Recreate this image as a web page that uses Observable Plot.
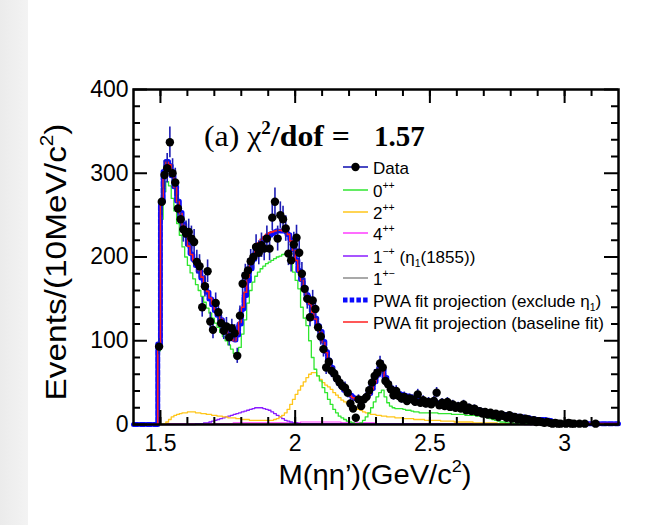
<!DOCTYPE html>
<html>
<head>
<meta charset="utf-8">
<script src="https://cdn.jsdelivr.net/npm/d3@7"></script>
<script src="https://cdn.jsdelivr.net/npm/@observablehq/plot@0.6"></script>
<style>
html, body { margin: 0; padding: 0; background: #ffffff; }
#wrap { position: relative; width: 646px; height: 525px; overflow: hidden; background: #ffffff; }
#strip { position: absolute; left: 0; top: 0; width: 28px; height: 525px; background: linear-gradient(to right, #ebebeb, #f3f3f3); }
#chart { position: absolute; left: 0; top: 0; }
</style>
</head>
<body>
<div id="wrap"><div id="strip"></div><div id="chart"></div></div>
<script>
// ---- binning: 10 MeV bins, low edges from 1.40 GeV ----
const binStart = 1.40;
const binWidth = 0.01;

// ---- axis ticks ----
const xMajorTicks = [1.5, 2, 2.5, 3];
const xMinorTicks = [1.5, 1.6, 1.7, 1.8, 1.9, 2.0, 2.1, 2.2, 2.3, 2.4, 2.5, 2.6, 2.7, 2.8, 2.9, 3.0, 3.1];
const yMajorTicks = [0, 100, 200, 300, 400];
const yMinorTicks = [20, 40, 60, 80, 120, 140, 160, 180, 220, 240, 260, 280, 320, 340, 360, 380];

// ---- observed events per bin ----
const dataCounts = [
  0,0,0,0,0,0,0,0,0,93,
  266,298,306,337,300,289,258,245,233,228,
  230,222,218,194,189,140,165,183,123,113,
  145,134,121,112,117,104,115,109,82,130,
  168,178,184,195,200,212,205,214,210,222,
  210,247,266,222,250,245,234,204,196,215,
  223,205,180,162,150,128,148,138,116,105,
  90,68,75,64,61,55,50,46,44,38,
  25,19,8,30,22,30,33,41,50,58,
  62,73,68,52,48,42,35,40,34,31,
  33,28,31,30,27,36,26,29,25,27,
  24,28,38,23,26,22,27,21,24,20,
  22,19,24,17,20,16,19,15,16,13,
  15,12,14,11,13,9,12,10,8,11,
  7,9,6,8,5,7,6,4,5,3,
  4,3,2,3,2,1,2,1,1,0,
  1,2,1,1,0,1,0,1,0,0,
  0,1,0,0,0,0,0,0,0,0
];

// ---- PWA fit projection (baseline fit) ----
const baselineFit = [
  0,0,0,0,0,0,0,0,0,95,
  265,300,313,310,298,283,266,252,238,225,
  213,203,196,190,184,176,167,159,151,144,
  137,131,126,120,113,107,102,100,108,122,
  140,158,176,192,203,211,217,221,224,227,
  229,230,231,232,232,231,230,227,219,208,
  196,183,172,162,154,144,134,126,118,110,
  98,86,76,67,59,53,48,44,40,37,
  34,32,30,29,29,30,32,36,42,50,
  58,66,64,55,48,43,40,38,36,35,
  34,33,32,31,30,29,29,28,27,27,
  26,25,25,24,24,23,23,22,22,21,
  20,20,19,19,18,18,17,17,16,15,
  15,14,14,13,13,12,12,11,11,10,
  10,9,9,8,8,7,7,6,6,5,
  5,5,5,4,4,2,2,2,1,1,
  1,1,1,1,1,1,1,1,1,1,
  1,1,1,1,1,1,1,1,1,1
];

// ---- PWA fit projection (exclude eta1) ----
const excludeFit = [
  0,0,0,0,0,0,0,0,0,96,
  266,302,314,309,297,284,267,253,239,226,
  214,204,196,190,183,175,166,158,150,143,
  136,130,125,119,113,107,103,101,107,120,
  137,154,171,186,197,205,211,216,220,224,
  226,228,230,231,231,231,230,227,220,209,
  197,184,173,163,155,145,135,127,119,111,
  99,87,77,68,60,54,49,45,41,38,
  35,33,31,30,30,31,33,37,43,51,
  59,67,65,56,49,44,41,39,37,36,
  35,34,33,32,31,30,30,29,28,28,
  27,26,26,25,25,24,24,23,23,22,
  21,21,20,20,19,19,18,18,17,16,
  16,15,15,14,14,13,13,12,12,11,
  11,10,10,9,9,8,8,7,7,6,
  6,6,6,5,5,2,2,2,1,1,
  1,1,1,1,1,1,1,1,1,1,
  1,1,1,1,1,1,1,1,1,1
];

// ---- 0++ component ----
const wave0pp = [
  0,0,0,0,0,0,0,0,0,88,
  245,278,290,285,270,255,240,226,212,200,
  190,181,174,167,160,153,146,139,133,127,
  121,116,110,105,100,95,90,85,82,92,
  108,125,145,160,170,177,182,186,189,192,
  194,196,198,200,201,203,204,204,196,182,
  172,162,140,127,118,100,80,66,58,52,
  44,38,30,24,18,14,10,8,6,4,
  3,2,1,1,2,5,9,14,20,27,
  33,38,41,33,26,22,20,19,19,19,
  18,17,17,16,15,15,14,14,14,14,
  14,14,14,13,13,13,13,13,12,12,
  12,12,12,11,11,11,11,10,10,10,
  9,8,7,6,5,4,3,3,2,2,
  2,1,1,1,1,1,1,1,1,1,
  1,1,1,1,1,0,0,0,0,0,
  0,0,0,0,0,0,0,0,0,0,
  0,0,0,0,0,0,0,0,0,0
];

// ---- 2++ component ----
const wave2pp = [
  0,0,0,0,0,0,0,0,0,0,
  0,1,3,6,9,11,12,13,14,14,
  15,15,15,14,14,13,13,12,12,11,
  11,10,10,9,9,8,8,8,7,7,
  6,6,6,5,5,5,5,5,5,5,
  5,5,6,7,9,11,14,18,24,30,
  36,41,46,51,56,60,62,62,58,54,
  50,47,45,42,38,35,32,29,27,25,
  23,21,20,18,17,15,14,13,12,12,
  11,11,10,10,9,9,9,8,8,8,
  7,7,7,7,6,6,6,6,5,5,
  5,5,5,5,4,4,4,4,4,3,
  3,3,3,3,3,3,2,2,2,2,
  2,2,2,2,2,1,1,1,1,1,
  1,1,1,1,1,1,1,1,1,1,
  1,1,1,1,1,0,0,0,0,0,
  0,0,0,0,0,0,0,0,0,0,
  0,0,0,0,0,0,0,0,0,0
];

// ---- 4++ component ----
const wave4pp = [
  0,0,0,0,0,0,0,0,0,0,
  0,1,1,1,1,1,1,1,1,1,
  1,1,1,1,1,1,1,1,1,1,
  1,1,1,1,1,1,1,2,2,2,
  2,2,2,2,2,2,2,2,2,2,
  2,2,2,2,2,2,2,2,2,2,
  2,2,3,3,3,3,3,3,3,3,
  3,3,3,3,3,3,3,2,2,2,
  2,2,2,2,2,2,2,2,2,2,
  1,1,1,1,1,1,1,1,1,1,
  1,1,1,1,1,1,1,1,1,1,
  1,1,1,1,1,1,1,1,1,1,
  1,1,1,1,1,1,1,1,1,1,
  1,1,1,1,1,1,1,1,1,1,
  1,1,1,1,1,1,1,1,1,1,
  1,1,1,1,1,0,0,0,0,0,
  0,0,0,0,0,0,0,0,0,0,
  0,0,0,0,0,0,0,0,0,0
];

// ---- 1-+ (eta1(1855)) component ----
const wave1mp = [
  0,0,0,0,0,0,0,0,0,0,
  0,0,0,0,0,0,0,0,0,0,
  0,0,0,1,1,1,2,2,3,4,
  5,6,7,8,9,10,11,12,13,14,
  15,16,17,18,19,20,20,20,19,18,
  17,15,13,11,9,7,5,4,3,2,
  2,1,1,1,1,1,1,1,1,1,
  1,1,1,1,1,1,1,1,1,1,
  1,1,1,1,1,1,1,1,1,1,
  1,1,1,1,1,1,1,1,1,1,
  1,1,1,1,1,1,1,1,1,1,
  1,1,1,1,1,1,1,1,1,1,
  1,1,1,1,1,1,1,1,1,1,
  1,1,1,1,1,1,1,1,1,1,
  1,1,1,1,1,0,0,0,0,0,
  0,0,0,0,0,0,0,0,0,0,
  0,0,0,0,0,0,0,0,0,0,
  0,0,0,0,0,0,0,0,0,0
];

// ---- 1+- component ----
const wave1pm = [
  0,0,0,0,0,0,0,0,0,0.5,
  0.5,0.5,0.5,0.5,0.5,0.5,0.5,0.5,0.5,0.5,
  0.5,0.5,0.5,0.5,0.5,0.5,0.5,0.5,0.5,0.5,
  0.5,0.5,0.5,0.5,0.5,0.5,0.5,0.5,0.5,0.5,
  0.5,0.5,0.5,0.5,0.5,0.5,0.5,0.5,0.5,0.5,
  0.5,0.5,0.5,0.5,0.5,0.5,0.5,0.5,0.5,0.5,
  0.5,0.5,0.5,0.5,0.5,0.5,0.5,0.5,0.5,0.5,
  0.5,0.5,0.5,0.5,0.5,0.5,0.5,0.5,0.5,0.5,
  0.5,0.5,0.5,0.5,0.5,0.5,0.5,0.5,0.5,0.5,
  0.5,0.5,0.5,0.5,0.5,0.5,0.5,0.5,0.5,0.5,
  0.5,0.5,0.5,0.5,0.5,0.5,0.5,0.5,0.5,0.5,
  0.5,0.5,0.5,0.5,0.5,0.5,0.5,0.5,0.5,0.5,
  0.5,0.5,0.5,0.5,0.5,0.5,0.5,0.5,0.5,0.5,
  0.5,0.5,0.5,0.5,0.5,0.5,0.5,0.5,0.5,0.5,
  0.5,0.5,0.5,0.5,0.5,0.5,0.5,0.5,0.5,0.5,
  0.5,0.5,0.5,0.5,0.5,0,0,0,0,0,
  0,0,0,0,0,0,0,0,0,0,
  0,0,0,0,0,0,0,0,0,0
];

// ---- legend entries ----
const legendEntries = [
  {key: "data", parts: [["Data", "n"]]},
  {key: "0pp", parts: [["0", "n"], ["++", "sup"]]},
  {key: "2pp", parts: [["2", "n"], ["++", "sup"]]},
  {key: "4pp", parts: [["4", "n"], ["++", "sup"]]},
  {key: "1mp", parts: [["1", "n"], ["−+", "sup"], [" (η", "n"], ["1", "sub"], ["(1855))", "n"]]},
  {key: "1pm", parts: [["1", "n"], ["+−", "sup"]]},
  {key: "excl", parts: [["PWA fit projection (exclude η", "n"], ["1", "sub"], [")", "n"]]},
  {key: "base", parts: [["PWA fit projection (baseline fit)", "n"]]}
];

const colors = {
  data: "#1c1cb4", "0pp": "#2fe62f", "2pp": "#ffc61a", "4pp": "#ff3dff",
  "1mp": "#8a1cff", "1pm": "#8c8c8c", excl: "#0a0aff", base: "#ff2020"
};

// ---- build drawable tables ----
const binLow = dataCounts.map((_, i) => Math.round((binStart + i * binWidth) * 1000) / 1000);
function steps(values) {
  return values.flatMap((v, i) => [{m: binLow[i], v}, {m: Math.round((binLow[i] + binWidth) * 1000) / 1000, v}]);
}
const points = dataCounts
  .map((n, i) => ({m: binLow[i] + binWidth / 2, n}))
  .filter(d => d.n > 0);

const xPerPx = 1.8 / 485, yPerPx = 400 / 335;
const majLen = 14, minLen = 7;
const tickStyle = {stroke: "black", strokeWidth: 2};

const chart = Plot.plot({
  width: 646, height: 525,
  marginLeft: 133, marginRight: 28, marginTop: 89, marginBottom: 101,
  x: {domain: [1.4, 3.2]},
  y: {domain: [0, 400]},
  style: {background: "transparent", fontFamily: "'Liberation Sans', Arial, sans-serif", fontSize: "23px", color: "black"},
  marks: [
    Plot.line(steps(wave1pm), {x: "m", y: "v", stroke: colors["1pm"], strokeWidth: 1.2}),
    Plot.line(steps(wave4pp), {x: "m", y: "v", stroke: colors["4pp"], strokeWidth: 1.2}),
    Plot.line(steps(wave1mp), {x: "m", y: "v", stroke: colors["1mp"], strokeWidth: 1.3}),
    Plot.line(steps(wave2pp), {x: "m", y: "v", stroke: colors["2pp"], strokeWidth: 1.3}),
    Plot.line(steps(wave0pp), {x: "m", y: "v", stroke: colors["0pp"], strokeWidth: 1.3}),
    Plot.line(steps(excludeFit), {x: "m", y: "v", stroke: colors.excl, strokeWidth: 5, strokeDasharray: "4.5,2.2"}),
    Plot.line(steps(baselineFit), {x: "m", y: "v", stroke: colors.base, strokeWidth: 1.6}),
    Plot.ruleX(points, {x: "m", y1: d => d.n - Math.sqrt(d.n), y2: d => d.n + Math.sqrt(d.n), stroke: colors.data, strokeWidth: 1.6}),
    Plot.dot(points, {x: "m", y: "n", r: 4.2, fill: "black", stroke: "none"}),
    Plot.frame({stroke: "black", strokeWidth: 2.5}),
    // inward ticks on all four sides
    Plot.ruleX(xMinorTicks, {y1: 0, y2: minLen * yPerPx, ...tickStyle}),
    Plot.ruleX(xMajorTicks, {y1: 0, y2: majLen * yPerPx, ...tickStyle}),
    Plot.ruleX(xMinorTicks, {y1: 400 - minLen * yPerPx, y2: 400, ...tickStyle}),
    Plot.ruleX(xMajorTicks, {y1: 400 - majLen * yPerPx, y2: 400, ...tickStyle}),
    Plot.ruleY(yMinorTicks, {x1: 1.4, x2: 1.4 + minLen * xPerPx, ...tickStyle}),
    Plot.ruleY(yMajorTicks, {x1: 1.4, x2: 1.4 + majLen * xPerPx, ...tickStyle}),
    Plot.ruleY(yMinorTicks, {x1: 3.2 - minLen * xPerPx, x2: 3.2, ...tickStyle}),
    Plot.ruleY(yMajorTicks, {x1: 3.2 - majLen * xPerPx, x2: 3.2, ...tickStyle}),
    Plot.axisX({ticks: xMajorTicks, tickSize: 0, tickPadding: 10, tickFormat: d => String(d), label: null, fontSize: 23}),
    Plot.axisY({ticks: yMajorTicks, tickSize: 0, tickPadding: 5, tickFormat: d => String(d), label: null, fontSize: 23})
  ]
});
document.getElementById("chart").appendChild(chart);

const svg = d3.select(chart);
const font = "'Liberation Sans', Arial, sans-serif";

function addParts(textSel, parts, baseSize) {
  let shift = 0;
  parts.forEach(([str, kind]) => {
    const t = textSel.append("tspan").text(str);
    let target = 0, size = baseSize;
    if (kind === "sup") { target = -0.42 * baseSize; size = baseSize * 0.62; }
    if (kind === "sub") { target = 0.25 * baseSize; size = baseSize * 0.62; }
    t.attr("dy", target - shift).attr("font-size", size);
    shift = target;
  });
}

// axis titles
const xt = svg.append("text").attr("x", 375).attr("y", 484).attr("text-anchor", "middle")
  .attr("font-family", font).attr("font-size", 28).attr("fill", "black")
  .attr("textLength", 193).attr("lengthAdjust", "spacingAndGlyphs");
addParts(xt, [["M(ηη’)(GeV/c", "n"], ["2", "sup"], [")", "n"]], 28);

const yt = svg.append("text").attr("transform", "translate(66,262) rotate(-90)").attr("text-anchor", "middle")
  .attr("font-family", font).attr("font-size", 30).attr("fill", "black")
  .attr("textLength", 277).attr("lengthAdjust", "spacingAndGlyphs");
addParts(yt, [["Events/(10MeV/c", "n"], ["2", "sup"], [")", "n"]], 30);

// panel title
const serif = "'Liberation Serif', 'Times New Roman', serif";
const tt = svg.append("text").attr("x", 204).attr("y", 146).attr("text-anchor", "start")
  .attr("font-family", serif).attr("font-size", 30).attr("fill", "black")
  .attr("textLength", 146).attr("lengthAdjust", "spacingAndGlyphs");
tt.append("tspan").text("(a) χ");
tt.append("tspan").attr("font-weight", "bold").attr("font-size", 18).attr("dy", -12).text("2");
tt.append("tspan").attr("font-weight", "bold").attr("dy", 12).text("/dof =");
svg.append("text").attr("x", 374).attr("y", 146).attr("text-anchor", "start").attr("font-family", serif).attr("font-size", 29)
  .attr("font-weight", "bold").attr("fill", "black").text("1.57");

// legend
const rowY = [167, 190, 212, 233, 256, 278, 300, 322];
const lg = svg.append("g").attr("text-anchor", "start");
legendEntries.forEach((e, i) => {
  const y = rowY[i];
  if (e.key === "data") {
    lg.append("line").attr("x1", 343).attr("x2", 368).attr("y1", y).attr("y2", y).attr("stroke", colors.data).attr("stroke-width", 1.6);
    lg.append("circle").attr("cx", 355.5).attr("cy", y).attr("r", 4.2).attr("fill", "black");
  } else if (e.key === "excl") {
    lg.append("line").attr("x1", 343).attr("x2", 368).attr("y1", y).attr("y2", y).attr("stroke", colors.excl).attr("stroke-width", 5).attr("stroke-dasharray", "4.5,2.2");
  } else {
    lg.append("line").attr("x1", 343).attr("x2", 368).attr("y1", y).attr("y2", y).attr("stroke", colors[e.key]).attr("stroke-width", 1.5);
  }
  const t = lg.append("text").attr("x", 373).attr("y", y + 6.5).attr("text-anchor", "start")
    .attr("font-family", font).attr("font-size", 17).attr("fill", "black");
  addParts(t, e.parts, 17);
});
</script>
</body>
</html>
